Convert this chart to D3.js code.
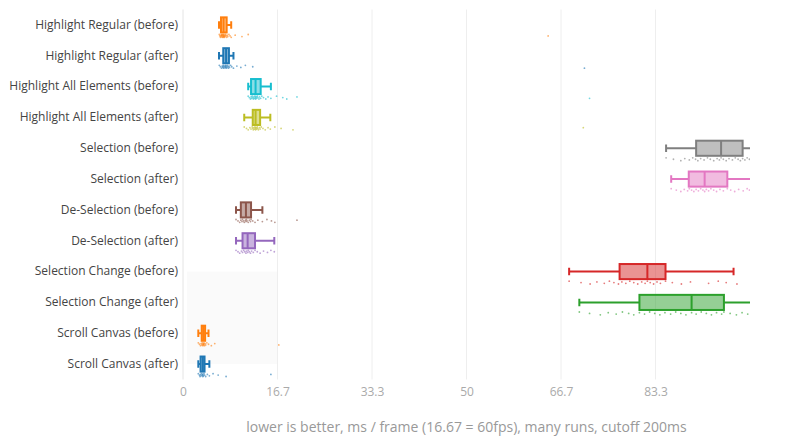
<!DOCTYPE html>
<html>
<head>
<meta charset="utf-8">
<script src="https://cdn.jsdelivr.net/npm/d3@7"></script>
<style>
  html, body { margin: 0; padding: 0; background: #fff; }
  svg { display: block; font-family: "Open Sans", sans-serif; }
</style>
</head>
<body>
<svg id="chart" width="800" height="440"></svg>
<script>
// ---------- DATA ----------
const categories = [
  "Highlight Regular (before)",
  "Highlight Regular (after)",
  "Highlight All Elements (before)",
  "Highlight All Elements (after)",
  "Selection (before)",
  "Selection (after)",
  "De-Selection (before)",
  "De-Selection (after)",
  "Selection Change (before)",
  "Selection Change (after)",
  "Scroll Canvas (before)",
  "Scroll Canvas (after)"
];
const seriesColors = ["#ff7f0e", "#1f77b4", "#17becf", "#bcbd22", "#7f7f7f", "#e377c2",
                      "#8c564b", "#9467bd", "#d62728", "#2ca02c", "#ff7f0e", "#1f77b4"];
// box statistics per series: [lower whisker, q1, median, q3, upper whisker] in ms/frame
const lowerWhisker = [6.35, 6.35, 11.5, 10.8, 85.2, 86.1, 9.35, 9.35, 68.1, 69.9, 2.7, 2.7];
const q1Values     = [6.7, 7.1, 12.0, 12.3, 90.5, 89.2, 10.2, 10.5, 77.0, 80.5, 3.3, 3.1];
const medianValues = [7.15, 7.6, 12.8, 12.8, 94.9, 92.0, 11.1, 11.4, 81.9, 89.7, 3.6, 3.5];
const q3Values     = [7.7, 8.1, 13.7, 13.6, 98.7, 96.0, 12.0, 12.7, 85.1, 95.4, 3.9, 3.8];
const upperWhisker = [8.5, 8.9, 15.5, 15.4, 110, 105, 14.0, 16.1, 97.1, 110, 4.5, 4.65];
// individual runs (points)
const hrBefore = [6.4,6.5,6.6,6.7,6.7,6.8,6.8,6.9,6.9,7.0,7.0,7.1,7.1,7.1,7.2,7.2,7.3,7.3,7.4,7.4,7.5,7.6,7.7,7.8,7.9,8.1,8.3,8.5,9.2,10.4,11.5,64.4];
const hrAfter = [6.4,6.6,6.8,6.9,7.0,7.1,7.1,7.2,7.3,7.4,7.5,7.5,7.6,7.6,7.7,7.8,7.9,8.0,8.1,8.2,8.4,8.6,8.9,9.5,10.2,11.0,12.3,70.8];
const haeBefore = [11.5,11.7,11.9,12.0,12.1,12.2,12.3,12.4,12.5,12.6,12.7,12.8,12.8,12.9,13.0,13.1,13.2,13.4,13.5,13.7,13.9,14.2,14.6,15.0,15.5,16.5,17.6,18.3,20.1,71.7];
const haeAfter = [10.8,11.2,11.5,11.8,12.0,12.2,12.3,12.4,12.5,12.6,12.7,12.8,12.8,12.9,13.0,13.1,13.2,13.3,13.5,13.6,13.8,14.1,14.5,15.0,15.4,16.2,17.3,19.4,70.6];
const selBefore = [85.2,86.5,87.8,88.5,89.3,89.9,90.4,90.8,91.3,91.9,92.5,93.0,93.6,94.2,94.6,94.9,95.3,95.8,96.3,96.9,97.4,97.9,98.3,98.7,99.1,99.5,99.9];
const selAfter = [86.1,87.0,87.8,88.4,89.0,89.3,89.7,90.1,90.5,90.9,91.3,91.7,92.0,92.3,92.7,93.1,93.6,94.1,94.7,95.3,96.0,96.6,97.3,98.0,98.8,99.5,99.9];
const dsBefore = [9.35,9.7,10.0,10.2,10.4,10.5,10.7,10.8,11.0,11.1,11.2,11.3,11.5,11.7,11.9,12.0,12.3,12.7,13.2,14.0,14.8,15.6,16.2,20.1];
const dsAfter = [9.35,9.7,10.0,10.3,10.5,10.7,10.9,11.1,11.2,11.4,11.5,11.7,11.9,12.1,12.4,12.7,13.1,13.6,14.2,14.9,15.5,16.1];
const schBefore = [68.1,70.2,71.8,73.0,74.3,75.2,76.0,76.8,77.4,78.1,78.8,79.5,80.2,80.9,81.5,81.9,82.4,83.0,83.6,84.2,85.1,86.3,87.9,89.5,92.7,94.4,95.8,97.7];
const schAfter = [69.9,71.7,73.6,75.0,76.4,77.5,78.6,79.5,80.5,81.4,82.3,83.2,84.1,85.0,86.0,86.9,87.8,88.7,89.7,90.5,91.4,92.3,93.2,94.1,95.0,95.4,96.5,97.6,98.6,99.6];
const scrollBefore = [2.7,2.9,3.1,3.2,3.3,3.4,3.5,3.5,3.6,3.6,3.7,3.7,3.8,3.9,4.0,4.2,4.5,5.0,5.6,16.9];
const scrollAfter = [2.7,2.9,3.0,3.1,3.2,3.3,3.4,3.5,3.5,3.6,3.7,3.8,4.0,4.3,4.65,5.3,6.2,7.6,15.5];
const pointSets = [hrBefore, hrAfter, haeBefore, haeAfter, selBefore, selAfter,
                   dsBefore, dsAfter, schBefore, schAfter, scrollBefore, scrollAfter];
const tickValues = [0, 100/6, 100/3, 50, 200/3, 250/3];
const tickLabels = ["0", "16.7", "33.3", "50", "66.7", "83.3"];
const xDomain = [0, 100];
const axisTitle = "lower is better, ms / frame (16.67 = 60fps), many runs, cutoff 200ms";
const shadeX = [0.7, 100/6];
const shadeRows = ["Selection Change (before)", "Scroll Canvas (after)"];

// ---------- LAYOUT ----------
const svg = d3.select("#chart");
const plot = { left: 183, right: 750, top: 9.5, bottom: 379.5 };

const x = d3.scaleLinear().domain(xDomain).range([plot.left, plot.right]);
const y = d3.scaleBand().domain(categories).range([plot.top, plot.bottom]).padding(0);
const bw = y.bandwidth();
const boxH = bw * 0.49;
const capH = boxH * 0.5;
const center = c => y(c) + bw / 2;

svg.append("defs").append("clipPath").attr("id", "clip")
  .append("rect").attr("x", plot.left).attr("y", plot.top - 5)
  .attr("width", plot.right - plot.left).attr("height", plot.bottom - plot.top + 5);

// shade band
svg.append("rect")
  .attr("x", x(shadeX[0])).attr("width", x(shadeX[1]) - x(shadeX[0]))
  .attr("y", center(shadeRows[0])).attr("height", center(shadeRows[1]) - center(shadeRows[0]))
  .attr("fill", "#fafafa");

// gridlines
svg.append("g").selectAll("line").data(tickValues).join("line")
  .attr("x1", d => x(d)).attr("x2", d => x(d))
  .attr("y1", plot.top).attr("y2", plot.bottom)
  .attr("stroke", (d, i) => i === 0 ? "#e4e4e4" : "#eeeeee").attr("stroke-width", 1);

// x axis
const xAxis = d3.axisBottom(x).tickValues(tickValues).tickFormat((d, i) => tickLabels[i]).tickSize(0).tickPadding(8);
const gx = svg.append("g").attr("transform", `translate(0,${plot.bottom})`).call(xAxis);
gx.select(".domain").remove();
gx.selectAll("text").attr("fill", "#aaa").style("font-size", "12px").style("font-family", "'Open Sans', sans-serif");

// y axis
const yAxis = d3.axisLeft(y).tickSize(0).tickPadding(5);
const gy = svg.append("g").attr("transform", `translate(${plot.left},0)`).call(yAxis);
gy.select(".domain").remove();
gy.selectAll("text").attr("fill", "#444").style("font-size", "12px").style("font-family", "'Open Sans', sans-serif");

// axis title
svg.append("text").attr("x", (plot.left + plot.right) / 2).attr("y", 432)
  .attr("text-anchor", "middle").attr("fill", "#999")
  .style("font-size", "14px").text(axisTitle);

// boxes
const gBoxes = svg.append("g").attr("clip-path", "url(#clip)");
categories.forEach((cat, i) => {
  const col = seriesColors[i];
  const cy = center(cat);
  const g = gBoxes.append("g");
  // points (below the box)
  const pts = pointSets[i];
  g.selectAll("circle").data(pts).join("circle")
    .attr("cx", d => x(d))
    .attr("cy", (d, j) => cy + 11 + (((j * 7) % 5) - 2) * 0.7)
    .attr("r", 0.9)
    .attr("fill", col).attr("opacity", 0.6);
  // whiskers
  g.append("line").attr("x1", x(lowerWhisker[i])).attr("x2", x(q1Values[i]))
    .attr("y1", cy).attr("y2", cy).attr("stroke", col).attr("stroke-width", 2);
  g.append("line").attr("x1", x(q3Values[i])).attr("x2", x(upperWhisker[i]))
    .attr("y1", cy).attr("y2", cy).attr("stroke", col).attr("stroke-width", 2);
  [lowerWhisker[i], upperWhisker[i]].forEach(v => {
    g.append("line").attr("x1", x(v)).attr("x2", x(v))
      .attr("y1", cy - capH / 2).attr("y2", cy + capH / 2)
      .attr("stroke", col).attr("stroke-width", 2);
  });
  // box
  g.append("rect").attr("x", x(q1Values[i])).attr("width", x(q3Values[i]) - x(q1Values[i]))
    .attr("y", cy - boxH / 2).attr("height", boxH)
    .attr("fill", col).attr("fill-opacity", 0.5)
    .attr("stroke", col).attr("stroke-width", 2);
  g.append("line").attr("x1", x(medianValues[i])).attr("x2", x(medianValues[i]))
    .attr("y1", cy - boxH / 2).attr("y2", cy + boxH / 2)
    .attr("stroke", col).attr("stroke-width", 2);
});
</script>
</body>
</html>
